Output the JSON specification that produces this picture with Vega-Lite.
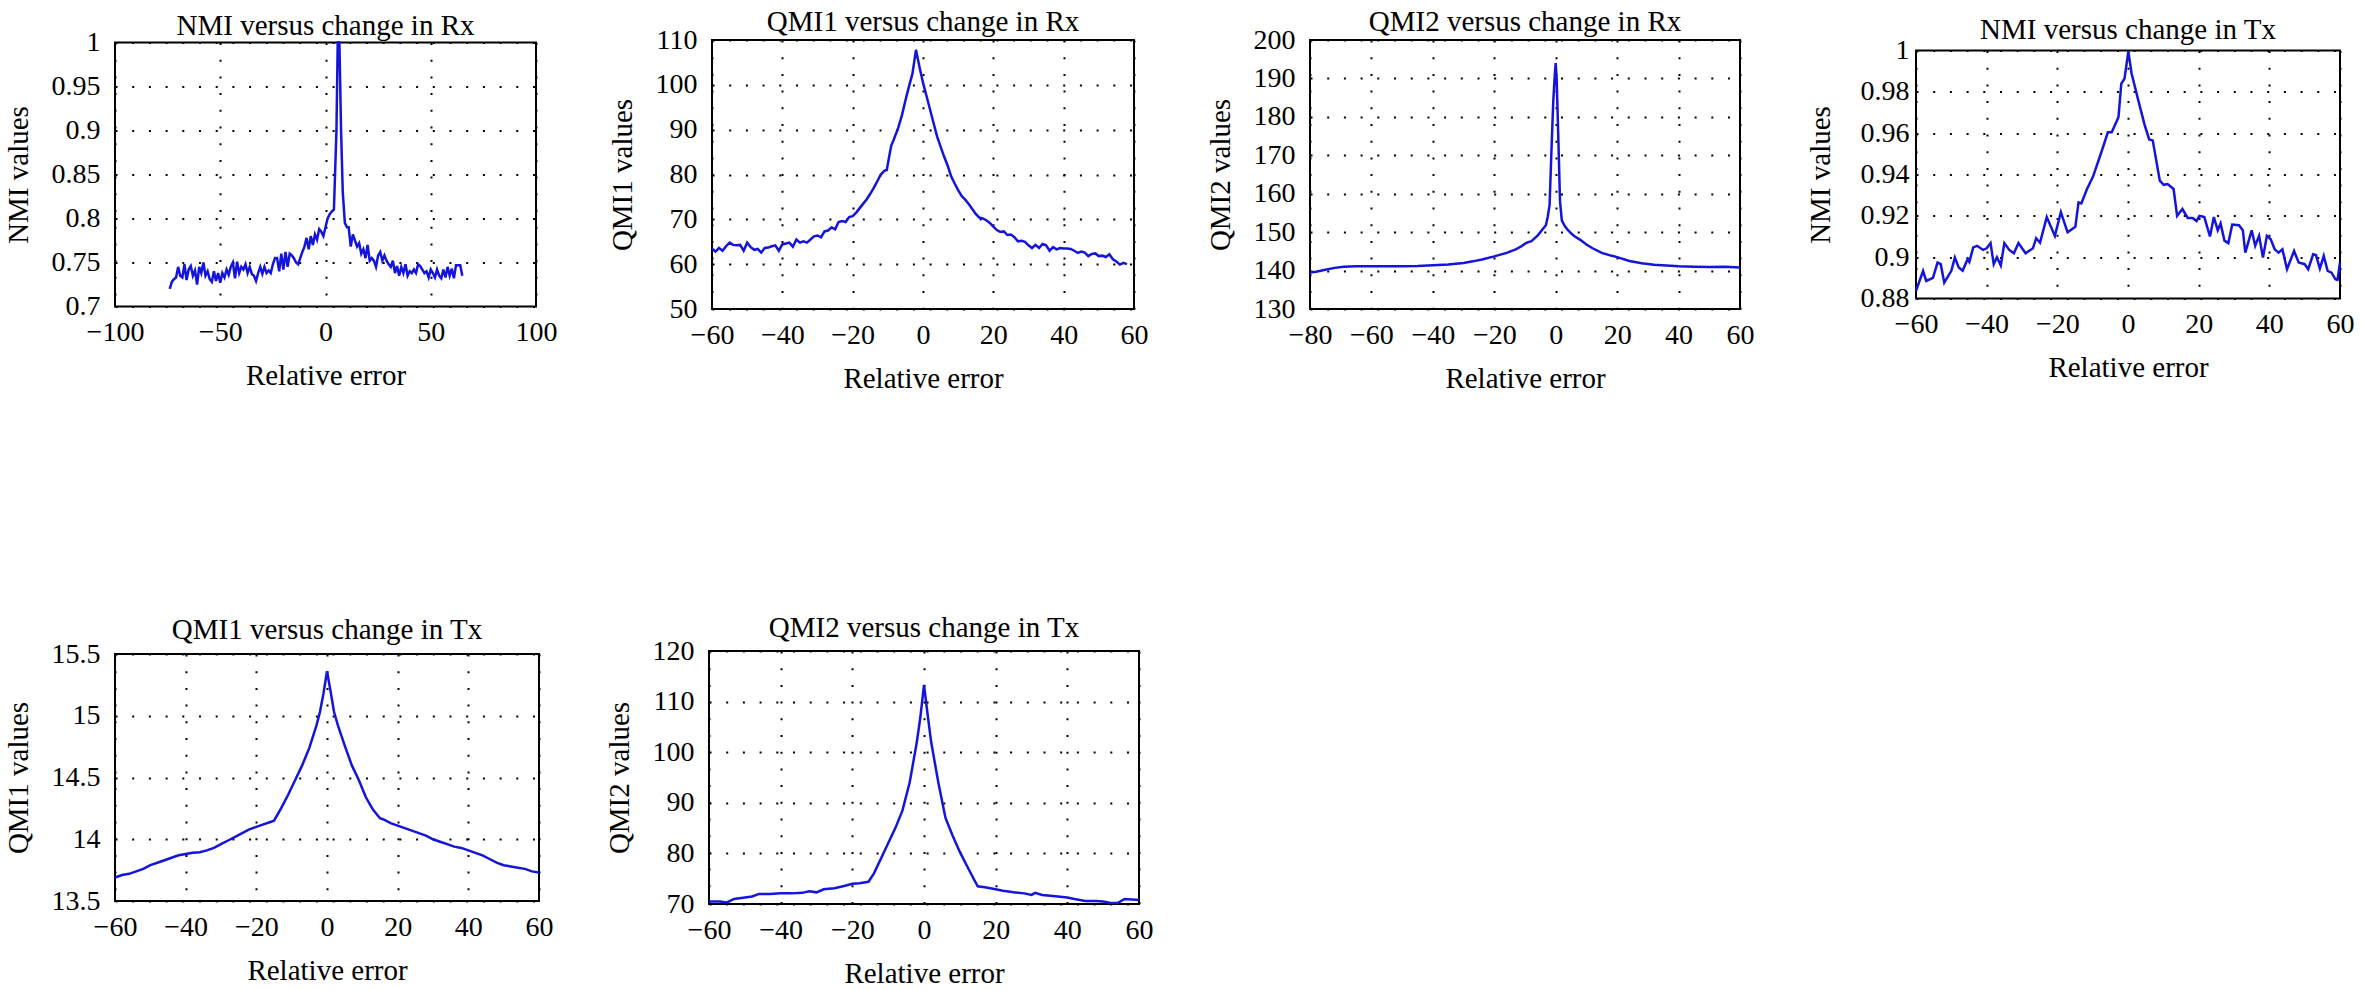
{
"$schema": "https://vega.github.io/schema/vega-lite/v6.json",
"autosize": {"type": "none"},
"padding": {"left": 115, "top": 40, "right": 2248, "bottom": 950},
"background": "white",
"config": {
  "font": "Liberation Serif",
  "view": {"stroke": "black", "strokeWidth": 2},
  "axis": {"domain": false, "ticks": false, "grid": true, "gridColor": "black", "gridDash": [2, 14.7], "gridWidth": 2, "gridOpacity": 1, "labelFont": "Liberation Serif", "labelFontSize": 28, "labelColor": "black", "titleFont": "Liberation Serif", "titleFontSize": 29, "titleFontWeight": "normal", "titleColor": "black", "labelFlush": false, "labelOverlap": false, "labelExpr": "format(datum.value, '')"},
  "axisX": {"labelPadding": 12, "titlePadding": 15},
  "axisY": {"labelPadding": 15, "titlePadding": 18},
  "title": {"font": "Liberation Serif", "fontSize": 29, "fontWeight": "normal", "color": "black", "frame": "group", "anchor": "middle", "offset": -12, "baseline": "alphabetic"},
  "line": {"color": "#1414dc", "strokeWidth": 2.5, "clip": true}
},
"datasets": {
  "nmi_rx": [{"x":-74,"y":0.720},{"x":-73,"y":0.728},{"x":-72,"y":0.731},{"x":-71,"y":0.733},{"x":-70,"y":0.745},{"x":-69,"y":0.735},{"x":-68,"y":0.733},{"x":-67,"y":0.748},{"x":-66,"y":0.730},{"x":-65,"y":0.742},{"x":-64,"y":0.746},{"x":-63,"y":0.735},{"x":-62,"y":0.741},{"x":-61,"y":0.725},{"x":-60,"y":0.745},{"x":-59,"y":0.738},{"x":-58,"y":0.750},{"x":-57,"y":0.735},{"x":-56,"y":0.740},{"x":-55,"y":0.731},{"x":-54,"y":0.728},{"x":-53,"y":0.740},{"x":-52,"y":0.729},{"x":-51,"y":0.738},{"x":-50,"y":0.727},{"x":-49,"y":0.738},{"x":-48,"y":0.733},{"x":-47,"y":0.742},{"x":-46,"y":0.736},{"x":-45,"y":0.745},{"x":-44,"y":0.750},{"x":-43,"y":0.732},{"x":-42,"y":0.751},{"x":-41,"y":0.738},{"x":-40,"y":0.745},{"x":-39,"y":0.742},{"x":-38,"y":0.748},{"x":-37,"y":0.738},{"x":-36,"y":0.745},{"x":-35,"y":0.737},{"x":-34,"y":0.735},{"x":-33,"y":0.729},{"x":-32,"y":0.738},{"x":-31,"y":0.745},{"x":-30,"y":0.737},{"x":-29,"y":0.745},{"x":-28,"y":0.738},{"x":-27,"y":0.741},{"x":-26,"y":0.738},{"x":-25,"y":0.748},{"x":-24,"y":0.755},{"x":-23,"y":0.755},{"x":-22,"y":0.740},{"x":-21,"y":0.760},{"x":-20,"y":0.742},{"x":-19,"y":0.762},{"x":-18,"y":0.745},{"x":-17,"y":0.760},{"x":-16,"y":0.758},{"x":-15,"y":0.755},{"x":-14,"y":0.750},{"x":-13,"y":0.748},{"x":-12,"y":0.755},{"x":-11,"y":0.762},{"x":-10,"y":0.768},{"x":-9,"y":0.778},{"x":-8,"y":0.765},{"x":-7,"y":0.780},{"x":-6,"y":0.770},{"x":-5,"y":0.782},{"x":-4,"y":0.776},{"x":-3,"y":0.788},{"x":-2,"y":0.785},{"x":-1,"y":0.780},{"x":0,"y":0.790},{"x":1,"y":0.800},{"x":2,"y":0.805},{"x":3,"y":0.808},{"x":4,"y":0.810},{"x":5.2,"y":0.90},{"x":5.8,"y":1.0},{"x":6.6,"y":1.0},{"x":7.4,"y":0.90},{"x":8.2,"y":0.83},{"x":9.2,"y":0.795},{"x":10.2,"y":0.79},{"x":11,"y":0.79},{"x":12,"y":0.768},{"x":13,"y":0.782},{"x":14,"y":0.775},{"x":15,"y":0.768},{"x":16,"y":0.772},{"x":17,"y":0.760},{"x":18,"y":0.765},{"x":19,"y":0.755},{"x":20,"y":0.770},{"x":21,"y":0.752},{"x":22,"y":0.755},{"x":23,"y":0.752},{"x":24,"y":0.745},{"x":25,"y":0.758},{"x":26,"y":0.762},{"x":27,"y":0.752},{"x":28,"y":0.758},{"x":29,"y":0.752},{"x":30,"y":0.748},{"x":31,"y":0.745},{"x":32,"y":0.752},{"x":33,"y":0.738},{"x":34,"y":0.746},{"x":35,"y":0.735},{"x":36,"y":0.745},{"x":37,"y":0.738},{"x":38,"y":0.748},{"x":39,"y":0.735},{"x":40,"y":0.740},{"x":41,"y":0.738},{"x":42,"y":0.742},{"x":43,"y":0.738},{"x":44,"y":0.748},{"x":45,"y":0.746},{"x":46,"y":0.742},{"x":47,"y":0.738},{"x":48,"y":0.740},{"x":49,"y":0.733},{"x":50,"y":0.742},{"x":51,"y":0.738},{"x":52,"y":0.733},{"x":53,"y":0.742},{"x":54,"y":0.735},{"x":55,"y":0.732},{"x":56,"y":0.742},{"x":57,"y":0.733},{"x":58,"y":0.745},{"x":59,"y":0.735},{"x":60,"y":0.743},{"x":61,"y":0.732},{"x":62,"y":0.747},{"x":63,"y":0.747},{"x":64,"y":0.747},{"x":65,"y":0.735}],
  "qmi1_rx": [{"x":-60,"y":63.5},{"x":-59,"y":62.8},{"x":-58,"y":63.6},{"x":-57,"y":63.0},{"x":-56,"y":64.0},{"x":-55,"y":64.8},{"x":-54,"y":64.3},{"x":-53,"y":64.2},{"x":-52,"y":64.3},{"x":-51,"y":63.0},{"x":-50,"y":64.8},{"x":-49,"y":63.8},{"x":-48,"y":63.2},{"x":-47,"y":63.4},{"x":-46,"y":62.6},{"x":-45,"y":63.6},{"x":-44,"y":63.7},{"x":-43,"y":64.0},{"x":-42,"y":64.2},{"x":-41,"y":63.0},{"x":-40,"y":64.4},{"x":-39,"y":64.6},{"x":-38,"y":64.8},{"x":-37,"y":63.9},{"x":-36,"y":65.5},{"x":-35,"y":64.8},{"x":-34,"y":65.1},{"x":-33,"y":64.8},{"x":-32,"y":65.5},{"x":-31,"y":66.2},{"x":-30,"y":66.4},{"x":-29,"y":66.0},{"x":-28,"y":67.3},{"x":-27,"y":67.5},{"x":-26,"y":68.2},{"x":-25,"y":67.8},{"x":-24,"y":69.4},{"x":-23,"y":69.6},{"x":-22,"y":69.4},{"x":-21,"y":70.5},{"x":-20,"y":70.7},{"x":-19,"y":71.5},{"x":-18,"y":72.5},{"x":-17,"y":73.5},{"x":-16,"y":74.5},{"x":-15,"y":75.7},{"x":-14,"y":77.0},{"x":-13,"y":78.5},{"x":-12,"y":80.0},{"x":-11,"y":80.8},{"x":-10.3,"y":81.0},{"x":-9.5,"y":84.5},{"x":-9,"y":86.5},{"x":-8.3,"y":87.8},{"x":-7,"y":90.5},{"x":-6,"y":93.2},{"x":-5,"y":96.5},{"x":-4,"y":99.6},{"x":-3,"y":102.5},{"x":-2,"y":107.8},{"x":-1,"y":104.0},{"x":0,"y":100.5},{"x":1,"y":97.5},{"x":2,"y":94.5},{"x":3,"y":91.5},{"x":4,"y":88.5},{"x":5,"y":86.2},{"x":6,"y":84.0},{"x":7,"y":82.0},{"x":8,"y":79.6},{"x":9,"y":78.0},{"x":10,"y":76.5},{"x":11,"y":75.2},{"x":12,"y":74.4},{"x":13,"y":73.4},{"x":14,"y":72.3},{"x":15,"y":71.2},{"x":16,"y":70.4},{"x":17,"y":70.2},{"x":18,"y":69.8},{"x":19,"y":69.2},{"x":20,"y":68.4},{"x":21,"y":67.6},{"x":22,"y":67.2},{"x":23,"y":67.3},{"x":24,"y":66.5},{"x":25,"y":66.6},{"x":26,"y":66.0},{"x":27,"y":65.1},{"x":28,"y":65.2},{"x":29,"y":65.0},{"x":30,"y":64.2},{"x":31,"y":63.6},{"x":32,"y":64.3},{"x":33,"y":63.6},{"x":34,"y":64.5},{"x":35,"y":64.2},{"x":36,"y":63.0},{"x":37,"y":63.8},{"x":38,"y":63.3},{"x":39,"y":63.6},{"x":40,"y":63.5},{"x":41,"y":63.5},{"x":42,"y":63.4},{"x":43,"y":63.0},{"x":44,"y":62.5},{"x":45,"y":62.8},{"x":46,"y":62.6},{"x":47,"y":61.8},{"x":48,"y":62.3},{"x":49,"y":62.4},{"x":50,"y":61.8},{"x":51,"y":61.9},{"x":52,"y":61.6},{"x":53,"y":62.2},{"x":54,"y":61.1},{"x":55,"y":60.6},{"x":56,"y":59.9},{"x":57,"y":60.3},{"x":58,"y":60.0}],
  "qmi2_rx": [{"x":-80,"y":139.5},{"x":-78,"y":139.7},{"x":-75,"y":140.2},{"x":-72,"y":140.7},{"x":-69,"y":141.0},{"x":-65,"y":141.1},{"x":-60,"y":141.1},{"x":-55,"y":141.1},{"x":-50,"y":141.1},{"x":-45,"y":141.2},{"x":-40,"y":141.4},{"x":-35,"y":141.6},{"x":-30,"y":142.0},{"x":-27,"y":142.4},{"x":-24,"y":142.9},{"x":-20,"y":143.7},{"x":-16,"y":144.6},{"x":-13,"y":145.5},{"x":-11,"y":146.4},{"x":-10,"y":147.0},{"x":-9,"y":147.4},{"x":-8,"y":147.6},{"x":-7,"y":148.3},{"x":-6,"y":149.0},{"x":-5,"y":150.0},{"x":-4,"y":151.0},{"x":-3.2,"y":151.8},{"x":-2.6,"y":154},{"x":-2,"y":157},{"x":-1.4,"y":171},{"x":-0.8,"y":184},{"x":-0.3,"y":191},{"x":0,"y":194},{"x":0.3,"y":190},{"x":0.8,"y":176},{"x":1.4,"y":158},{"x":2,"y":153},{"x":3,"y":151.5},{"x":4,"y":150.5},{"x":5,"y":149.7},{"x":6,"y":149.0},{"x":8,"y":148.0},{"x":10,"y":146.8},{"x":12,"y":145.8},{"x":15,"y":144.6},{"x":18,"y":143.9},{"x":20,"y":143.5},{"x":24,"y":142.5},{"x":28,"y":141.9},{"x":32,"y":141.5},{"x":36,"y":141.3},{"x":40,"y":141.1},{"x":45,"y":141.0},{"x":50,"y":140.9},{"x":55,"y":141.0},{"x":60,"y":140.8}],
  "nmi_tx": [{"x":-60,"y":0.8837},{"x":-58,"y":0.8933},{"x":-57.1,"y":0.8885},{"x":-55.2,"y":0.890},{"x":-53.9,"y":0.8974},{"x":-53,"y":0.8966},{"x":-52,"y":0.8877},{"x":-50,"y":0.8934},{"x":-49,"y":0.8998},{"x":-47.9,"y":0.895},{"x":-46.8,"y":0.8934},{"x":-45.4,"y":0.899},{"x":-44.9,"y":0.8977},{"x":-43.8,"y":0.9047},{"x":-42.7,"y":0.9055},{"x":-41,"y":0.9035},{"x":-40,"y":0.9043},{"x":-38.9,"y":0.9068},{"x":-38,"y":0.8966},{"x":-37.1,"y":0.900},{"x":-36,"y":0.896},{"x":-35,"y":0.9068},{"x":-33.6,"y":0.9035},{"x":-32.3,"y":0.9019},{"x":-31,"y":0.9068},{"x":-29,"y":0.9019},{"x":-26.9,"y":0.9043},{"x":-26,"y":0.9092},{"x":-24.9,"y":0.907},{"x":-23,"y":0.9194},{"x":-20.7,"y":0.9103},{"x":-19,"y":0.9218},{"x":-17.1,"y":0.912},{"x":-14.9,"y":0.9147},{"x":-14,"y":0.9265},{"x":-13.2,"y":0.926},{"x":-11.6,"y":0.933},{"x":-9.9,"y":0.939},{"x":-7.5,"y":0.951},{"x":-5.7,"y":0.9604},{"x":-4.6,"y":0.9604},{"x":-2.7,"y":0.9677},{"x":-1.9,"y":0.984},{"x":-1,"y":0.9863},{"x":0.1,"y":0.9995},{"x":1,"y":0.989},{"x":2.9,"y":0.976},{"x":4.7,"y":0.964},{"x":6,"y":0.957},{"x":7,"y":0.9565},{"x":9,"y":0.937},{"x":10.1,"y":0.935},{"x":11.2,"y":0.9354},{"x":12.9,"y":0.933},{"x":13.9,"y":0.920},{"x":15.4,"y":0.9233},{"x":16.9,"y":0.919},{"x":18.3,"y":0.919},{"x":19.4,"y":0.9175},{"x":20.2,"y":0.920},{"x":21.6,"y":0.9194},{"x":23.2,"y":0.910},{"x":24.3,"y":0.9194},{"x":25.4,"y":0.913},{"x":26.2,"y":0.9163},{"x":27.3,"y":0.908},{"x":28.4,"y":0.9068},{"x":29.5,"y":0.9158},{"x":31.4,"y":0.9155},{"x":32.5,"y":0.913},{"x":33.2,"y":0.9022},{"x":35,"y":0.913},{"x":36,"y":0.9055},{"x":37.1,"y":0.9103},{"x":38.2,"y":0.8998},{"x":39.3,"y":0.9103},{"x":40.4,"y":0.9087},{"x":41.5,"y":0.9038},{"x":42.6,"y":0.9022},{"x":43.7,"y":0.9038},{"x":45,"y":0.8942},{"x":47,"y":0.903},{"x":48.3,"y":0.8974},{"x":50,"y":0.8966},{"x":51,"y":0.8942},{"x":52.4,"y":0.9014},{"x":53.2,"y":0.901},{"x":54.3,"y":0.8945},{"x":55.4,"y":0.9006},{"x":56.5,"y":0.8934},{"x":57.6,"y":0.8925},{"x":58.7,"y":0.8893},{"x":59.3,"y":0.889},{"x":60,"y":0.8974}],
  "qmi1_tx": [{"x":-60,"y":13.69},{"x":-58,"y":13.71},{"x":-56,"y":13.72},{"x":-54,"y":13.74},{"x":-52,"y":13.76},{"x":-50,"y":13.79},{"x":-48,"y":13.81},{"x":-46,"y":13.83},{"x":-44,"y":13.85},{"x":-42,"y":13.87},{"x":-40,"y":13.88},{"x":-38,"y":13.89},{"x":-36,"y":13.895},{"x":-34,"y":13.91},{"x":-32,"y":13.93},{"x":-30,"y":13.96},{"x":-28,"y":13.99},{"x":-26,"y":14.02},{"x":-24,"y":14.05},{"x":-22,"y":14.08},{"x":-20,"y":14.10},{"x":-18,"y":14.12},{"x":-16,"y":14.14},{"x":-15,"y":14.15},{"x":-13,"y":14.25},{"x":-11,"y":14.36},{"x":-9,"y":14.48},{"x":-7,"y":14.60},{"x":-5,"y":14.74},{"x":-3,"y":14.92},{"x":-2,"y":15.03},{"x":-1,"y":15.18},{"x":0,"y":15.36},{"x":1,"y":15.20},{"x":2,"y":15.03},{"x":3,"y":14.93},{"x":5,"y":14.76},{"x":7,"y":14.60},{"x":9,"y":14.48},{"x":11,"y":14.34},{"x":13,"y":14.24},{"x":15,"y":14.17},{"x":16,"y":14.16},{"x":18,"y":14.13},{"x":20,"y":14.11},{"x":22,"y":14.09},{"x":24,"y":14.07},{"x":26,"y":14.05},{"x":28,"y":14.03},{"x":30,"y":14.00},{"x":32,"y":13.98},{"x":34,"y":13.96},{"x":36,"y":13.94},{"x":38,"y":13.93},{"x":40,"y":13.91},{"x":42,"y":13.89},{"x":44,"y":13.87},{"x":46,"y":13.84},{"x":48,"y":13.81},{"x":50,"y":13.79},{"x":52,"y":13.78},{"x":54,"y":13.77},{"x":56,"y":13.76},{"x":58,"y":13.74},{"x":60,"y":13.73}],
  "qmi2_tx": [{"x":-60,"y":70.5},{"x":-57,"y":70.5},{"x":-55,"y":70.3},{"x":-53,"y":71.0},{"x":-50,"y":71.3},{"x":-48,"y":71.5},{"x":-46,"y":72.0},{"x":-43,"y":72.0},{"x":-40,"y":72.1},{"x":-37,"y":72.1},{"x":-34,"y":72.2},{"x":-32,"y":72.5},{"x":-30,"y":72.3},{"x":-28,"y":72.9},{"x":-25,"y":73.1},{"x":-22,"y":73.6},{"x":-20,"y":74.0},{"x":-18,"y":74.1},{"x":-15.5,"y":74.4},{"x":-14,"y":76.0},{"x":-12,"y":79.0},{"x":-10,"y":82.0},{"x":-8,"y":85.0},{"x":-6,"y":88.5},{"x":-4,"y":94.0},{"x":-2,"y":102.0},{"x":-1,"y":107.0},{"x":0,"y":113.3},{"x":1,"y":107.5},{"x":2,"y":102.0},{"x":4,"y":94.0},{"x":6,"y":87.0},{"x":8,"y":83.5},{"x":10,"y":80.3},{"x":12,"y":77.5},{"x":14,"y":74.8},{"x":15,"y":73.5},{"x":17,"y":73.3},{"x":20,"y":72.9},{"x":22,"y":72.6},{"x":25,"y":72.3},{"x":28,"y":72.1},{"x":30,"y":71.8},{"x":31,"y":72.2},{"x":33,"y":71.8},{"x":36,"y":71.6},{"x":40,"y":71.3},{"x":42,"y":71.0},{"x":45,"y":70.6},{"x":48,"y":70.6},{"x":50,"y":70.5},{"x":52,"y":70.2},{"x":54,"y":70.2},{"x":56,"y":71.0},{"x":58,"y":70.9},{"x":60,"y":70.8}]
},
"bounds": "flush",
"spacing": 611,
"vconcat": [
  {"hconcat": [
    {"width": 421, "height": 264, "title": {"text": "NMI versus change in Rx", "offset": -12}, "data": {"name": "nmi_rx"}, "mark": "line",
     "encoding": {"x": {"field": "x", "type": "quantitative", "scale": {"domain": [-100, 100], "nice": false, "zero": false}, "axis": {"values": [-100, -50, 0, 50, 100], "title": "Relative error"}},
                  "y": {"field": "y", "type": "quantitative", "scale": {"domain": [0.7, 1], "nice": false, "zero": false}, "axis": {"values": [0.7, 0.75, 0.8, 0.85, 0.9, 0.95, 1], "title": "NMI values"}}}},
    {"width": 422, "height": 269, "title": {"text": "QMI1 versus change in Rx", "offset": -11}, "data": {"name": "qmi1_rx"}, "mark": "line",
     "encoding": {"x": {"field": "x", "type": "quantitative", "scale": {"domain": [-60, 60], "nice": false, "zero": false}, "axis": {"values": [-60, -40, -20, 0, 20, 40, 60], "title": "Relative error"}},
                  "y": {"field": "y", "type": "quantitative", "scale": {"domain": [50, 110], "nice": false, "zero": false}, "axis": {"values": [50, 60, 70, 80, 90, 100, 110], "title": "QMI1 values"}}}},
    {"width": 430, "height": 269, "title": {"text": "QMI2 versus change in Rx", "offset": -11}, "data": {"name": "qmi2_rx"}, "mark": "line",
     "encoding": {"x": {"field": "x", "type": "quantitative", "scale": {"domain": [-80, 60], "nice": false, "zero": false}, "axis": {"values": [-80, -60, -40, -20, 0, 20, 40, 60], "title": "Relative error"}},
                  "y": {"field": "y", "type": "quantitative", "scale": {"domain": [130, 200], "nice": false, "zero": false}, "axis": {"values": [130, 140, 150, 160, 170, 180, 190, 200], "title": "QMI2 values"}}}},
    {"width": 424, "height": 248, "title": {"text": "NMI versus change in Tx", "offset": -8}, "data": {"name": "nmi_tx"}, "mark": "line",
     "encoding": {"x": {"field": "x", "type": "quantitative", "scale": {"domain": [-60, 60], "nice": false, "zero": false}, "axis": {"values": [-60, -40, -20, 0, 20, 40, 60], "title": "Relative error"}},
                  "y": {"field": "y", "type": "quantitative", "scale": {"domain": [0.88, 1], "nice": false, "zero": false}, "axis": {"values": [0.88, 0.9, 0.92, 0.94, 0.96, 0.98, 1], "title": "NMI values", "labelPadding": 7, "titlePadding": 25}}}}
  ], "spacing": 176, "bounds": "flush", "center": true},
  {"hconcat": [
    {"width": 424, "height": 247, "title": {"text": "QMI1 versus change in Tx", "offset": -5}, "data": {"name": "qmi1_tx"}, "mark": "line",
     "encoding": {"x": {"field": "x", "type": "quantitative", "scale": {"domain": [-60, 60], "nice": false, "zero": false}, "axis": {"values": [-60, -40, -20, 0, 20, 40, 60], "title": "Relative error"}},
                  "y": {"field": "y", "type": "quantitative", "scale": {"domain": [13.5, 15.5], "nice": false, "zero": false}, "axis": {"values": [13.5, 14, 14.5, 15, 15.5], "title": "QMI1 values"}}}},
    {"width": 430, "height": 253, "title": {"text": "QMI2 versus change in Tx", "offset": -6}, "data": {"name": "qmi2_tx"}, "mark": "line",
     "encoding": {"x": {"field": "x", "type": "quantitative", "scale": {"domain": [-60, 60], "nice": false, "zero": false}, "axis": {"values": [-60, -40, -20, 0, 20, 40, 60], "title": "Relative error"}},
                  "y": {"field": "y", "type": "quantitative", "scale": {"domain": [70, 120], "nice": false, "zero": false}, "axis": {"values": [70, 80, 90, 100, 110, 120], "title": "QMI2 values"}}}}
  ], "spacing": 170, "bounds": "flush", "center": true}
]
}
